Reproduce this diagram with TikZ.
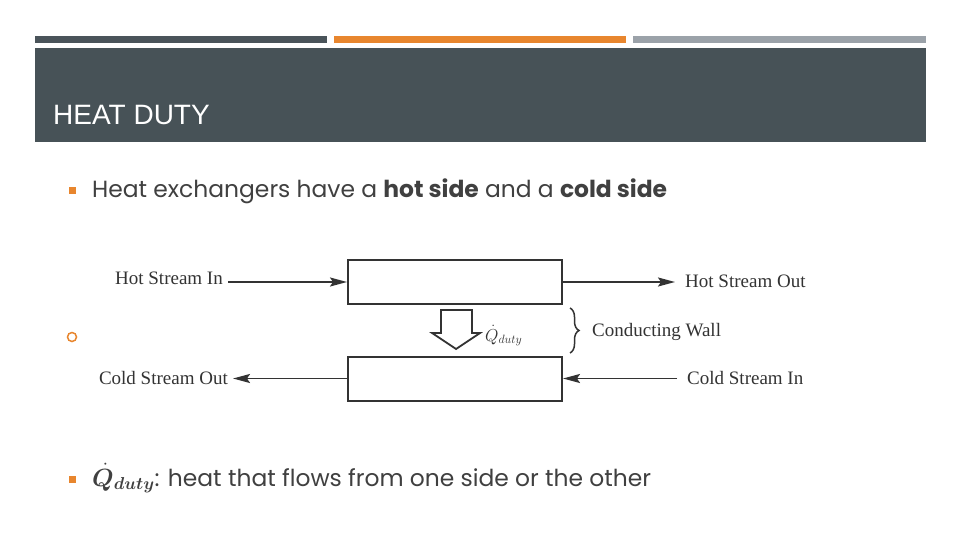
\documentclass[tikz,border=0pt]{standalone}
\usepackage{fontspec}
\usepackage{amsmath,bm}
\setmainfont{Liberation Serif}
\newfontfamily\titlefont{Liberation Sans}
\newfontfamily\bodyfont{Poppins}
\usetikzlibrary{arrows.meta,decorations.pathreplacing}
\definecolor{hdr}{HTML}{475257}
\definecolor{barA}{HTML}{4A545A}
\definecolor{barB}{HTML}{E8862E}
\definecolor{barC}{HTML}{9BA2A9}
\definecolor{bodytxt}{HTML}{404040}
\definecolor{dg}{HTML}{333333}
\tikzset{
  box/.style={draw=dg, line width=2pt, minimum width=214pt, minimum height=44pt, inner sep=0pt},
  lbl/.style={text=dg, font=\fontsize{19}{19}\selectfont, inner ysep=0pt},
  lblL/.style={lbl, inner xsep=5pt},
  lblR/.style={lbl, inner xsep=10pt},
  arr/.style={draw=dg, line width=1.8pt, -{Stealth[length=17pt,width=9pt,inset=3pt]}},
  bodyline/.style={text=bodytxt, font=\bodyfont\fontsize{23.4}{23.4}\selectfont, inner sep=0pt},
  sqbullet/.style={fill=barB, minimum size=7pt, inner sep=0pt},
}
\begin{document}
\begin{tikzpicture}[x=1pt,y=-1pt]
\useasboundingbox (0,0) rectangle (960,540);
\fill[white] (0,0) rectangle (960,540);
% top bars and header
\fill[barA] (35,36) rectangle (327,43);
\fill[barB] (334,36) rectangle (626,43);
\fill[barC] (633,36) rectangle (926,43);
\fill[hdr] (35,48) rectangle (926,142);
\node[anchor=base west, text=white, inner sep=0pt, font=\titlefont\fontsize{28}{28}\selectfont] (title) at (53,125) {HEAT DUTY};
% bullet 1
\node[sqbullet] (b1) at (72,190) {};
\node[bodyline, anchor=base west] (t1) at (92,197) {Heat exchangers have a \textbf{hot side} and a \textbf{cold side}};
% circle bullet
\draw[draw=barB, line width=1.5pt] (72,337) circle (4.5pt);
% diagram
\node[box] (hot) at (455,282) {};
\node[box] (cold) at (455,378.5) {};
\node[lblL, anchor=base east] (hin) at (228,284) {Hot Stream In};
\node[lblR, anchor=base west] (hout) at (675,287) {Hot Stream Out};
\node[lblL, anchor=base east] (cout) at (233,384) {Cold Stream Out};
\node[lblR, anchor=base west] (cin) at (677,384) {Cold Stream In};
\node[lbl, anchor=base west, inner sep=0pt] (wall) at (592,336) {Conducting Wall};
\draw[arr] (hin.east |- hot.west) -- (hot.west);
\draw[arr] (hot.east) -- (hout.west |- hot.east);
\draw[arr] (cold.west) -- (cout.east |- cold.west);
\draw[arr] (cin.west |- cold.east) -- (cold.east);
% heat flow block arrow
\draw[draw=dg, line width=1.8pt, fill=white, line join=miter]
  (441,310) -- (472,310) -- (472,333) -- (480,333) -- (456,349) -- (432,333) -- (441,333) -- cycle;
\node[anchor=base west, inner sep=0pt, text=dg, font=\fontsize{18}{18}\selectfont] (qd) at (485,341) {$\dot{Q}_{duty}$};
\draw[draw=dg, line width=1.5pt, decorate, decoration={brace, amplitude=9pt}] (570,308) -- (570,353);
% bullet 3
\node[sqbullet] (b3) at (72,479) {};
\node[bodyline, anchor=base west] (t3) at (92,486) {$\bm{\dot{Q}_{duty}}$: heat that flows from one side or the other};
\end{tikzpicture}
\end{document}
